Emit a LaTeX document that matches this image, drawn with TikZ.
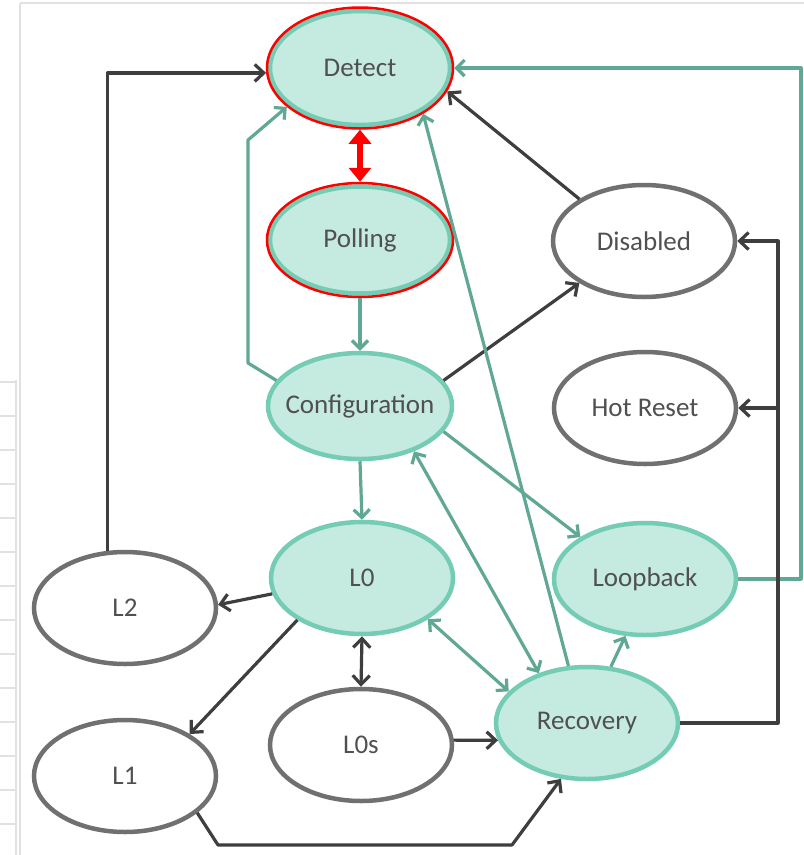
\documentclass[tikz,border=0pt]{standalone}
\usepackage{fontspec}
\setmainfont{Carlito}
\usetikzlibrary{shapes.geometric,arrows.meta}
\definecolor{tealfill}{RGB}{197,234,223}
\definecolor{tealline}{RGB}{116,204,180}
\definecolor{tealarrow}{RGB}{96,168,148}
\definecolor{darkline}{RGB}{62,62,62}
\definecolor{grayline}{RGB}{112,112,112}
\definecolor{txt}{RGB}{80,80,80}
\definecolor{framegray}{RGB}{225,225,225}
\newcommand{\fixw}[1]{\makebox[0pt]{#1}}
\begin{document}
\begin{tikzpicture}[x=1pt,y=-1pt,
  st/.style={ellipse, inner sep=0pt, minimum width=182pt, minimum height=112pt,
    line width=4.5pt, font=\fontsize{27}{30}\selectfont, text=txt},
  tealst/.style={st, draw=tealline, fill=tealfill},
  grayst/.style={st, draw=grayline, fill=white},
  redring/.style={ellipse, draw=red, line width=2.5pt, inner sep=0pt},
  darr/.style={draw=darkline, line width=3.2pt, line join=round,
    -{Straight Barb[length=9pt,width=17pt]}},
  dboth/.style={darr, {Straight Barb[length=9pt,width=17pt]}-{Straight Barb[length=9pt,width=17pt]}},
  tarr/.style={draw=tealarrow, line width=3.2pt, line join=round,
    -{Straight Barb[length=8pt,width=16pt]}},
  tboth/.style={tarr, {Straight Barb[length=8pt,width=16pt]}-{Straight Barb[length=8pt,width=16pt]}},
  redarr/.style={draw=red, line width=6pt, {Triangle[length=14pt,width=22pt]}-{Triangle[length=14pt,width=22pt]}},
  tabline/.style={draw=framegray, line width=1.5pt}
]
\useasboundingbox (0,0) rectangle (804,855);
\fill[white] (0,0) rectangle (804,855);
% frame and left table fragment
\draw[tabline] (20,3) -- (806,3);
\draw[tabline] (20,3) -- (20,857);
\draw[tabline] (16,380) -- (16,857);
\foreach \yy in {382,416,450,484,518,552,586,620,654,688,722,756,790,824}
  \draw[tabline] (-2,\yy) -- (16,\yy);

% helper coordinates
\coordinate (rightx) at (801,0);
\coordinate (branchx) at (778,0);
\coordinate (leftx) at (248,0);

% nodes
\node[tealst, minimum width=180pt, minimum height=114pt] (detect) at (360,68) {\fixw{Detect}};
\node[redring, minimum width=186pt, minimum height=121pt] (detectR) at (360,68) {};
\node[tealst, minimum width=180pt, minimum height=107pt] (polling) at (360,240) {\fixw{Polling}};
\node[redring, minimum width=186pt, minimum height=114pt] (pollingR) at (360,240) {};
\node[tealst, minimum width=184pt, minimum height=106pt] (config) at (360,406) {\fixw{Configuration}};
\node[tealst] (lzero) at (362,578) {\fixw{L0}};
\node[grayst] (lzeros) at (361,745) {\fixw{L0s}};
\node[tealst] (recovery) at (587,723) {\fixw{Recovery}};
\node[tealst] (loopback) at (645,579) {\fixw{Loopback}};
\node[grayst] (disabled) at (644,241) {\fixw{Disabled}};
\node[grayst] (hotreset) at (645,408) {\fixw{Hot Reset}};
\node[grayst] (ltwo) at (125,608) {\fixw{L2}};
\node[grayst] (lone) at (125,776) {\fixw{L1}};

% connectors
\draw[darr] (ltwo.107) |- (detectR.183);
\draw[tarr] (config.163) -- (leftx |- 0,363) -- (leftx |- 0,140) -- (detectR.208);
\draw[redarr] (detectR.south) -- (pollingR.north);
\draw[tarr] (pollingR.south) -- (config.north);
\draw[darr] (config.17) -- (disabled.213);
\draw[darr] (disabled.147) -- (detectR.-15);
\draw[tarr] (recovery.108) -- (detectR.-36);
\draw[tarr] (loopback.east) -- (loopback.east -| rightx) |- (detectR.east);
\draw[darr] (recovery.east) -| (branchx |- disabled.east) -- (disabled.east);
\draw[darr] (branchx |- hotreset.east) -- (hotreset.east);
\draw[tarr] (config.south) -- (lzero.north);
\draw[tarr] (config.-17) -- (loopback.147);
\draw[tboth] (config.-40) -- (recovery.134);
\draw[tboth] (lzero.-32) -- (recovery.158);
\draw[tarr] (recovery.67) -- (loopback.-109);
\draw[dboth] (lzero.south) -- (lzeros.north);
\draw[darr] (lzero.190) -- (ltwo.2);
\draw[darr] (lzero.213) -- (lone.33);
\draw[darr] (lzeros.3) -- (recovery.191);
\draw[darr] (lone.-27) -- (218,845) -- (512,845) -- (recovery.-115);
\end{tikzpicture}
\end{document}
